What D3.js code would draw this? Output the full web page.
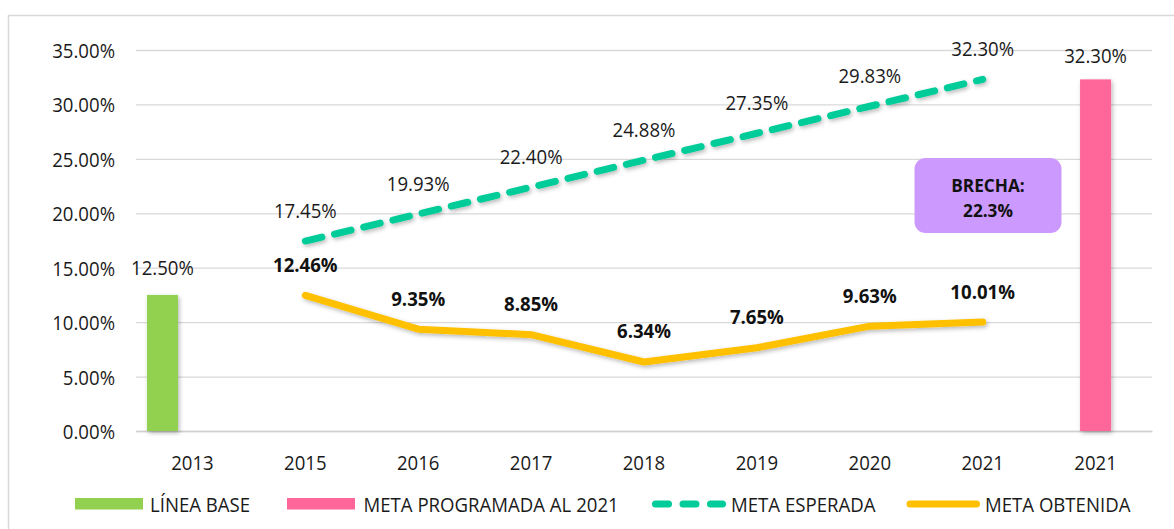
<!DOCTYPE html>
<html><head><meta charset="utf-8">
<script src="https://cdn.jsdelivr.net/npm/d3@7"></script>
<style>body{margin:0;background:#fff}svg{display:block}text{font-family:"Open Sans",sans-serif}</style>
</head><body><svg id="c" width="1174" height="529"></svg>
<script>
const categories = ["2013","2015","2016","2017","2018","2019","2020","2021","2021 "];
const baseCat = ["2013"], baseVal = [12.50];
const progCat = ["2021 "], progVal = [32.30];
const lineCats = ["2015","2016","2017","2018","2019","2020","2021"];
const esperada = [17.45,19.93,22.40,24.88,27.35,29.83,32.30];
const obtenida = [12.46,9.35,8.85,6.34,7.65,9.63,10.01];
const yTicks = [0,5,10,15,20,25,30,35];
const gapText = ["BRECHA:","22.3%"];
const legendItems = ["LÍNEA BASE","META PROGRAMADA AL 2021","META ESPERADA","META OBTENIDA"];

const FS = 20, TXT = "#1a1a1a";
const svg = d3.select("#c");
const defs = svg.append("defs");
const f = defs.append("filter").attr("id","sh").attr("x","-50%").attr("y","-50%").attr("width","200%").attr("height","200%");
f.append("feDropShadow").attr("dx",1.5).attr("dy",2).attr("stdDeviation",2).attr("flood-color","#000").attr("flood-opacity",0.28);

svg.append("rect").attr("x",8.5).attr("y",15.5).attr("width",1180).attr("height",530).attr("fill","#fff").attr("stroke","#d9d9d9").attr("stroke-width",1.5);

const x = d3.scaleBand().domain(categories).range([136,1152]);
const y = d3.scaleLinear().domain([0,35]).range([431,50]);
const cx = c => x(c) + x.bandwidth()/2;
const fmt = v => v.toFixed(2) + "%";

const yAxis = d3.axisLeft(y).tickValues(yTicks).tickFormat(d => d.toFixed(2)+"%").tickSize(-(1152-136)).tickPadding(21);
const gy = svg.append("g").attr("transform","translate(136,0)").call(yAxis);
gy.select(".domain").remove();
gy.selectAll(".tick line").attr("stroke","#d9d9d9").attr("stroke-width",1.3);
gy.selectAll(".tick text").attr("fill",TXT).attr("font-size",FS).attr("dy",null).attr("dominant-baseline","central");

const xAxis = d3.axisBottom(x).tickSize(0).tickPadding(0).tickFormat(d => d.trim());
const gx = svg.append("g").attr("transform","translate(0,431)").call(xAxis);
gx.select(".domain").attr("stroke","#d0d0d0").attr("stroke-width",1.3);
gx.selectAll(".tick text").attr("fill",TXT).attr("font-size",FS).attr("dy",null).attr("y",31).attr("dominant-baseline","central");

const bw = 31;
svg.selectAll(".bb").data(baseVal).join("rect").attr("filter","url(#sh)")
  .attr("x",(d,i)=>cx(baseCat[i]) - 30 - bw/2).attr("width",bw)
  .attr("y",d=>y(d)).attr("height",d=>y(0)-y(d)).attr("fill","#92D050");
svg.selectAll(".bbl").data(baseVal).join("text")
  .attr("x",(d,i)=>cx(baseCat[i]) - 30).attr("y",d=>y(d)-27).attr("text-anchor","middle")
  .attr("dominant-baseline","central").attr("font-size",FS).attr("fill",TXT).text(fmt);
svg.selectAll(".pb").data(progVal).join("rect").attr("filter","url(#sh)")
  .attr("x",(d,i)=>cx(progCat[i]) - bw/2).attr("width",bw)
  .attr("y",d=>y(d)).attr("height",d=>y(0)-y(d)).attr("fill","#FF6699");
svg.selectAll(".pbl").data(progVal).join("text")
  .attr("x",(d,i)=>cx(progCat[i])).attr("y",d=>y(d)-24).attr("text-anchor","middle")
  .attr("dominant-baseline","central").attr("font-size",FS).attr("fill",TXT).text(fmt);

const line = d3.line().x((d,i)=>cx(lineCats[i])).y(d=>y(d));
svg.append("path").datum(esperada).attr("d",line).attr("fill","none").attr("stroke","#00CC99")
  .attr("stroke-width",7).attr("stroke-linecap","round").attr("stroke-dasharray","17,13").attr("filter","url(#sh)");
svg.append("path").datum(obtenida).attr("d",line).attr("fill","none").attr("stroke","#FFC000")
  .attr("stroke-width",7).attr("stroke-linecap","round").attr("stroke-linejoin","round").attr("filter","url(#sh)");

svg.selectAll(".el").data(esperada).join("text")
  .attr("x",(d,i)=>cx(lineCats[i])).attr("y",d=>y(d)-31).attr("text-anchor","middle")
  .attr("dominant-baseline","central").attr("font-size",FS).attr("fill",TXT).text(fmt);
svg.selectAll(".ol").data(obtenida).join("text")
  .attr("x",(d,i)=>cx(lineCats[i])).attr("y",d=>y(d)-31).attr("text-anchor","middle")
  .attr("dominant-baseline","central").attr("font-size",FS).attr("font-weight","bold").attr("fill","#111").text(fmt);

// callout
svg.append("rect").attr("x",914.5).attr("y",158).attr("width",147).attr("height",75).attr("rx",11)
  .attr("fill","#CC99FF");
svg.selectAll(".gt").data(gapText).join("text").attr("x",988).attr("y",(d,i)=>184+i*25.5)
  .attr("text-anchor","middle").attr("dominant-baseline","central").attr("font-size",18.5)
  .attr("font-weight","bold").attr("fill","#111").text(d=>d);

// legend
const lg = svg.append("g");
const lx = [75,287,652,906.5];
const lw = [68,68,74,73.5];
const tx = [150,363.5,731,985];
const lcol = ["#92D050","#FF6699","#00CC99","#FFC000"];
legendItems.forEach((t,i)=>{
  if(i<2){
    lg.append("rect").attr("x",lx[i]).attr("y",498).attr("width",lw[i]).attr("height",11.5).attr("fill",lcol[i]);
  } else {
    lg.append("line").attr("x1",lx[i]+3.5).attr("x2",lx[i]+lw[i]-3.5).attr("y1",504).attr("y2",504)
      .attr("stroke",lcol[i]).attr("stroke-width",7).attr("stroke-linecap","round")
      .attr("stroke-dasharray", i===2 ? "13,14.5" : null);
  }
  lg.append("text").attr("x",tx[i]).attr("y",504).attr("dominant-baseline","central")
    .attr("font-size",FS).attr("fill",TXT).text(t);
});

// narrow the glyphs slightly to match the reference typeface proportions
svg.selectAll("text").each(function(){
  const L = this.getComputedTextLength();
  this.setAttribute("textLength", (L*0.93).toFixed(1));
  this.setAttribute("lengthAdjust","spacingAndGlyphs");
});
</script></body></html>
